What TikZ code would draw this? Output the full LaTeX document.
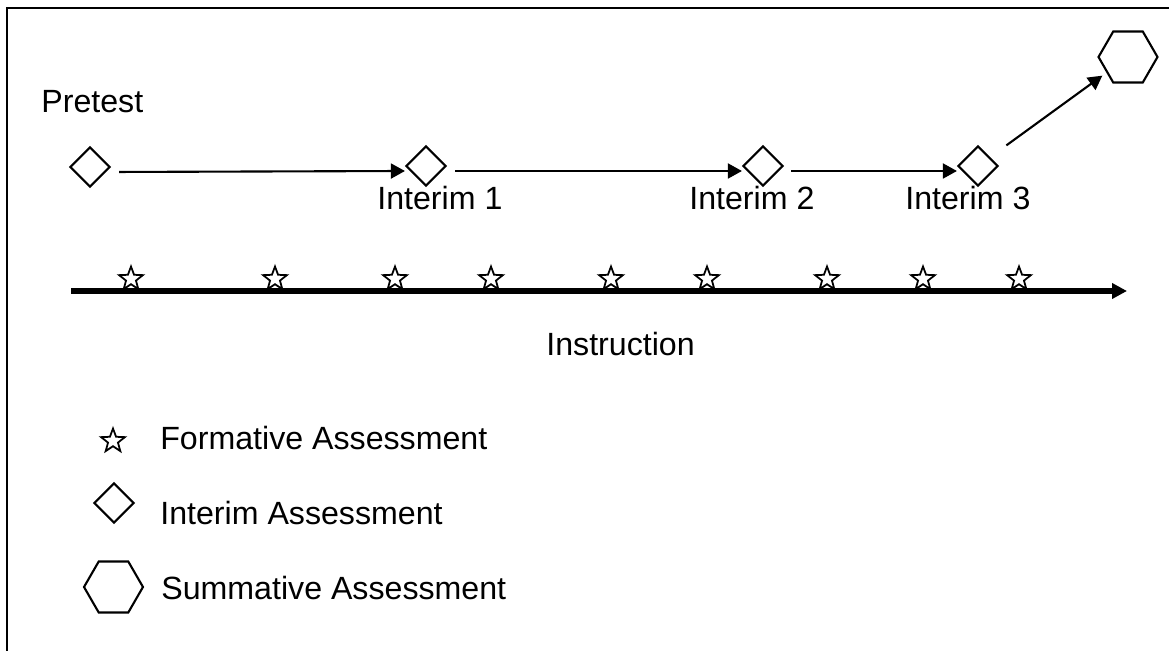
\documentclass[tikz,border=0pt]{standalone}
\usepackage{fontspec}
\setmainfont{Liberation Sans}
\usetikzlibrary{shapes.geometric}
\usetikzlibrary{arrows.meta}

\tikzset{
  interim/.style={diamond, draw, line width=1.2pt, fill=white, inner sep=0pt, minimum size=0.8cm},
  summative/.style={regular polygon, regular polygon sides=6, draw, line width=1.2pt, fill=white, inner sep=0pt, minimum size=1.18cm},
  formative/.style={star, star points=5, star point ratio=2.4, draw, line width=1pt, fill=white, inner sep=0pt, minimum size=0.5cm},
  txt/.style={anchor=base west, inner sep=0pt},
  flow/.style={line width=1.2pt, -{Triangle[length=8pt, width=8.5pt]}},
  timeline/.style={line width=3pt, -{Triangle[length=8.5pt, width=8.5pt]}}
}

\begin{document}
\begin{tikzpicture}[x=0.02cm, y=-0.02cm, font=\fontsize{18.3}{22}\selectfont]
            % Fix the page size
            \useasboundingbox (0,0) rectangle (1169,651);

            % Draw the frame
            \draw[line width=1.5pt] (1169,8) -- (7,8) -- (7,651);

            % Place the assessments
            \node[interim] (pre) at (90,167) {};
            \node[interim] (int1) at (426,166) {};
            \node[interim] (int2) at (763,166) {};
            \node[interim] (int3) at (978,166) {};
            \node[summative] (sum) at (1128,57) {};

            % Draw the labels
            \node[txt] (lpre) at (41,113) {Pretest};
            \node[txt] (lint1) at (377,210) {Interim 1};
            \node[txt] (lint2) at (689,210) {Interim 2};
            \node[txt] (lint3) at (905,210) {Interim 3};

            % Draw the arrows between assessments
            \draw[flow, shorten <=0.16cm] ([yshift=-0.1cm]pre.east) -- ([yshift=-0.1cm]int1.west);
            \draw[flow, shorten <=0.16cm] ([yshift=-0.1cm]int1.east) -- ([yshift=-0.1cm]int2.west);
            \draw[flow, shorten <=0.14cm] ([yshift=-0.1cm]int2.east) -- ([yshift=-0.1cm]int3.west);
            \draw[flow, shorten <=0.4cm, shorten >=0.1cm] (int3) -- (sum);

            % Draw the instruction line
            \coordinate (ax0) at (71,291);
            \coordinate (ax1) at (1127,291);
            \draw[timeline] (ax0) -- (ax1);
            \foreach \x [count=\i] in {131,275,395,491,611,707,827,923,1019}
                \node[formative] (f\i) at (\x,279) {};
            \node[txt] (instr) at (546,356) {Instruction};

            % Draw the legend
            \node[formative] (kf) at (113,441) {};
            \node[interim] (ki) at (114,503) {};
            \node[summative] (ks) at (113.5,587) {};
            \node[txt] (tf) at (160,450) {Formative Assessment};
            \node[txt] (ti) at (160,524) {Interim Assessment};
            \node[txt] (ts) at (161,599) {Summative Assessment};

        \end{tikzpicture}
\end{document}
